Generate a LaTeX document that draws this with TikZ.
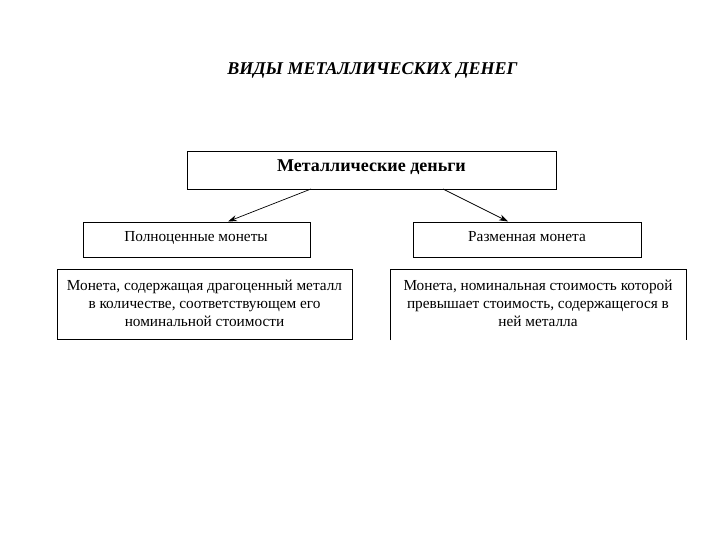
\documentclass[tikz,border=0pt]{standalone}
\usepackage{fontspec}
\setmainfont{Liberation Serif}
\usetikzlibrary{arrows.meta}
\begin{document}
\begin{tikzpicture}[x=1pt,y=-1pt,
  box/.style={draw, line width=0.9pt, inner sep=0pt},
  txt/.style={font=\fontsize{15.3}{18}\selectfont, align=center},
  arr/.style={-{Stealth[length=9pt,width=6pt]}, line width=0.7pt}]
\useasboundingbox (0,0) rectangle (720,540);
\node[font=\fontsize{18}{21}\selectfont\bfseries\itshape] (title) at (372.5,70) {ВИДЫ МЕТАЛЛИЧЕСКИХ ДЕНЕГ};
\node[box, minimum width=369pt, minimum height=38pt] (top) at (371.5,170) {};
\node[font=\fontsize{18}{21}\selectfont\bfseries] (toptxt) at (371.5,167) {Металлические деньги};
\node[box, minimum width=227pt, minimum height=35pt] (lm) at (196.5,239.5) {};
\node[txt] (lmtxt) at (196,238) {Полноценные монеты};
\node[box, minimum width=228pt, minimum height=35pt] (rm) at (527,239.5) {};
\node[txt] (rmtxt) at (527,237) {Разменная монета};
\node[box, minimum width=295pt, minimum height=70pt] (lb) at (204.5,304) {};
\node[txt] (lbtxt) at (204.5,303) {Монета, содержащая драгоценный металл\\в количестве, соответствующем его\\номинальной стоимости};
\coordinate (rbtl) at (390,269);
\coordinate (rbtr) at (686,269);
\coordinate (rbbl) at (390,340);
\coordinate (rbbr) at (686,340);
\draw[line width=0.9pt] (rbbl) -- (rbtl) -- (rbtr) -- (rbbr);
\node[txt] (rbtxt) at (538,303) {Монета, номинальная стоимость которой\\превышает стоимость, содержащегося в\\ней металла};
\coordinate (a1) at (311,189);
\coordinate (a2) at (443,189);
\draw[arr] (a1) -- (228,221.5);
\draw[arr] (a2) -- (508,221.5);
\end{tikzpicture}
\end{document}
